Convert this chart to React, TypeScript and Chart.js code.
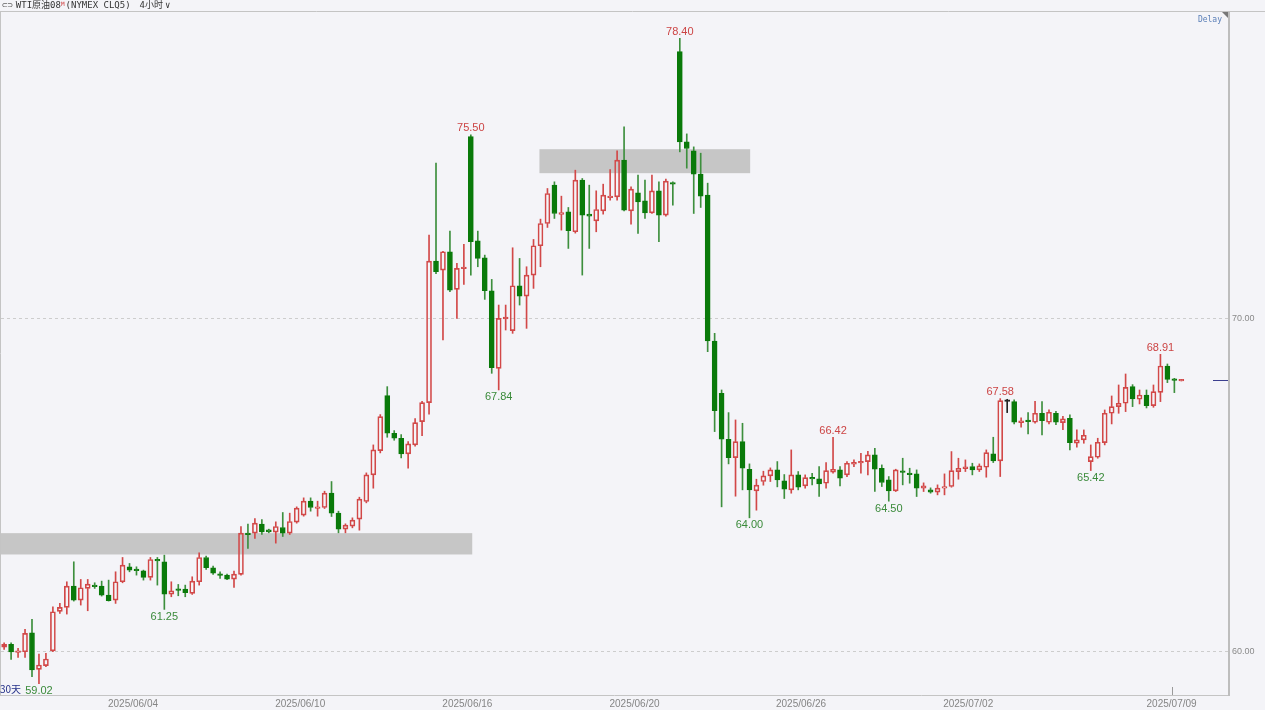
import React, { useEffect, useRef } from 'react';
import { Chart, registerables } from 'chart.js';

Chart.register(...registerables);

// ---- OHLC data (4-hour candles, WTI crude CLQ5) ----
const openP = [
  60.12, 60.20, 59.96, 59.98, 60.55, 59.45, 59.56, 60.01, 61.19, 61.31,
  61.95, 61.53, 61.88, 61.98, 61.95, 61.68, 61.53, 62.08, 62.53, 62.46,
  62.41, 62.21, 62.75, 62.68, 61.71, 61.86, 61.86, 61.73, 62.08, 62.81,
  62.50, 62.31, 62.28, 62.16, 62.30, 63.54, 63.54, 63.81, 63.64, 63.57,
  63.71, 63.54, 63.87, 64.08, 64.50, 64.29, 64.31, 64.74, 64.14, 63.66,
  63.75, 63.96, 64.49, 65.29, 66.02, 67.67, 66.54, 66.39, 65.92, 66.19,
  66.89, 67.46, 71.71, 71.44, 71.99, 70.86, 71.49, 75.45, 72.32, 71.81,
  70.82, 68.49, 69.98, 69.62, 70.97, 70.66, 71.29, 72.17, 72.84, 73.99,
  73.11, 73.19, 72.59, 74.14, 73.12, 72.92, 73.22, 73.62, 73.64, 74.74,
  73.22, 73.76, 73.52, 73.16, 73.82, 73.09, 74.07, 78.00, 75.29, 75.02,
  74.32, 73.69, 69.31, 67.74, 66.36, 65.81, 66.29, 65.46, 64.81, 65.09,
  65.26, 65.44, 65.11, 64.84, 65.29, 64.96, 65.21, 65.17, 65.04, 65.37,
  65.44, 65.29, 65.62, 65.66, 65.69, 65.89, 65.49, 65.14, 64.81, 65.41,
  65.34, 65.32, 64.89, 64.84, 64.77, 64.89, 64.94, 65.39, 65.49, 65.54,
  65.44, 65.52, 65.92, 65.71, 67.52, 67.49, 66.87, 66.92, 66.87, 67.14,
  66.87, 67.14, 66.86, 66.99, 66.24, 66.34, 65.69, 65.82, 66.26, 67.14,
  67.34, 67.44, 67.94, 67.56, 67.69, 67.37, 67.77, 68.56, 68.17, 68.12,
];
const highP = [
  60.25, 60.25, 60.08, 60.65, 60.95, 59.91, 59.93, 61.33, 61.43, 62.08,
  62.68, 62.15, 62.15, 62.05, 62.10, 62.13, 62.38, 62.81, 62.63, 62.53,
  62.43, 62.81, 62.81, 62.88, 62.08, 62.00, 61.98, 62.23, 62.95, 62.85,
  62.55, 62.38, 62.31, 62.40, 63.74, 63.81, 63.98, 63.95, 63.66, 63.88,
  64.16, 64.14, 64.33, 64.60, 64.60, 64.50, 64.80, 65.09, 64.20, 63.82,
  64.00, 64.62, 65.35, 66.19, 67.10, 67.94, 66.62, 66.50, 66.29, 66.98,
  67.50, 72.49, 74.65, 72.00, 72.61, 71.64, 72.21, 75.50, 72.61, 71.89,
  71.16, 70.39, 70.39, 72.11, 71.79, 71.54, 72.36, 72.97, 73.89, 74.09,
  73.66, 73.32, 74.44, 74.19, 73.99, 73.82, 74.02, 74.46, 75.02, 75.74,
  73.94, 74.29, 74.14, 74.29, 74.09, 74.17, 74.09, 78.40, 75.53, 75.14,
  74.95, 74.05, 69.54, 67.84, 67.16, 66.94, 66.84, 65.62, 65.16, 65.40,
  65.50, 65.69, 65.30, 66.04, 65.39, 65.29, 65.34, 65.54, 65.66, 66.42,
  65.54, 65.69, 65.74, 65.94, 66.00, 66.09, 65.59, 65.24, 65.46, 65.79,
  65.49, 65.44, 65.05, 64.90, 64.99, 65.32, 65.99, 65.79, 65.74, 65.64,
  65.62, 66.04, 66.42, 67.58, 67.56, 67.54, 67.00, 67.16, 67.50, 67.49,
  67.24, 67.20, 67.05, 67.09, 66.64, 66.64, 66.19, 66.39, 67.24, 67.66,
  67.99, 68.32, 68.00, 67.84, 67.84, 67.99, 68.91, 68.62, 68.19, 68.16,
];
const lowP = [
  60.05, 59.75, 59.81, 59.81, 59.23, 59.02, 59.53, 59.98, 61.13, 61.11,
  61.50, 61.38, 61.21, 61.88, 61.65, 61.50, 61.43, 62.05, 62.38, 62.28,
  62.13, 62.13, 61.98, 61.25, 61.63, 61.66, 61.63, 61.70, 61.98, 62.45,
  62.30, 62.18, 62.14, 61.91, 62.28, 63.08, 63.38, 63.50, 63.55, 63.24,
  63.44, 63.50, 63.84, 64.05, 64.20, 64.05, 64.28, 64.04, 63.55, 63.55,
  63.70, 63.63, 64.45, 64.89, 65.95, 66.42, 66.33, 65.80, 65.49, 66.15,
  66.47, 67.11, 71.33, 69.34, 70.79, 69.99, 71.01, 71.29, 71.54, 70.56,
  68.34, 67.84, 69.64, 69.54, 70.39, 69.69, 70.89, 71.54, 72.72, 72.99,
  72.64, 72.09, 72.55, 71.29, 72.09, 72.59, 73.12, 73.54, 73.54, 73.22,
  72.82, 72.54, 72.99, 73.14, 72.29, 73.06, 73.39, 74.99, 74.50, 73.14,
  73.32, 68.99, 66.59, 64.33, 65.62, 64.65, 64.84, 64.00, 64.23, 64.98,
  65.09, 64.93, 64.58, 64.74, 64.84, 64.89, 64.99, 64.64, 64.89, 65.34,
  64.96, 65.24, 65.54, 65.34, 65.29, 64.79, 64.94, 64.50, 64.79, 64.99,
  65.04, 64.64, 64.79, 64.74, 64.69, 64.69, 64.92, 65.16, 65.39, 65.29,
  65.39, 65.22, 65.66, 65.24, 67.16, 66.82, 66.72, 66.52, 66.84, 66.49,
  66.82, 66.80, 66.65, 66.04, 66.12, 66.24, 65.42, 65.79, 66.19, 66.82,
  67.14, 67.19, 67.34, 67.42, 67.30, 67.32, 67.49, 68.06, 67.76, 68.11,
];
const closeP = [
  60.20, 59.97, 60.01, 60.53, 59.43, 59.58, 59.76, 61.18, 61.31, 61.95,
  61.53, 61.90, 62.01, 61.93, 61.68, 61.51, 62.08, 62.58, 62.43, 62.41,
  62.21, 62.75, 62.71, 61.71, 61.81, 61.83, 61.75, 62.10, 62.81, 62.50,
  62.34, 62.28, 62.16, 62.31, 63.54, 63.50, 63.84, 63.58, 63.58, 63.74,
  63.54, 63.89, 64.29, 64.50, 64.31, 64.32, 64.74, 64.14, 63.66, 63.78,
  63.93, 64.56, 65.29, 66.04, 67.04, 66.54, 66.39, 65.92, 66.22, 66.86,
  67.46, 71.71, 71.39, 71.99, 70.84, 71.49, 71.52, 72.29, 71.79, 70.82,
  68.51, 69.99, 70.02, 70.97, 70.66, 71.29, 72.17, 72.84, 73.74, 73.14,
  73.17, 72.62, 74.14, 73.09, 73.06, 73.26, 73.69, 73.66, 74.74, 73.24,
  73.87, 73.49, 73.16, 73.82, 73.09, 74.11, 74.02, 75.29, 75.09, 74.32,
  73.66, 69.31, 67.22, 66.36, 65.81, 66.29, 65.49, 64.84, 64.98, 65.26,
  65.44, 65.14, 64.86, 65.29, 64.92, 65.21, 65.17, 65.02, 65.42, 65.46,
  65.19, 65.64, 65.66, 65.69, 65.89, 65.46, 65.06, 64.81, 65.44, 65.37,
  65.30, 64.89, 64.96, 64.77, 64.89, 64.94, 65.42, 65.49, 65.52, 65.44,
  65.56, 65.96, 65.71, 67.52, 67.52, 66.87, 66.90, 66.90, 67.14, 66.92,
  67.17, 66.87, 66.97, 66.26, 66.34, 66.48, 65.84, 66.27, 67.14, 67.34,
  67.44, 67.92, 67.57, 67.69, 67.37, 67.79, 68.56, 68.16, 68.13, 68.15,
];

// ---- axis ticks ----
const dateTickPos = [18.5, 42.5, 66.5, 90.5, 114.4, 138.4, 167.6];
const dateTickLabels = ['2025/06/04', '2025/06/10', '2025/06/16', '2025/06/20', '2025/06/26', '2025/07/02', '2025/07/09'];
const priceTicks = [60, 70];

// ---- high / low marks ----
const markIdx = [5, 23, 67, 71, 97, 107, 119, 127, 143, 156, 166];
const markVal = [59.02, 61.25, 75.5, 67.84, 78.4, 64.0, 66.42, 64.5, 67.58, 65.42, 68.91];
const markIsHigh = [false, false, true, false, true, false, true, false, true, false, true];

// ---- gray zones ----
const zoneStart = [-0.6, 76.85];
const zoneEnd = [67.2, 107.1];
const zoneLow = [62.9, 74.35];
const zoneHigh = [63.54, 75.07];

const UP = '#d24848';
const DOWN = '#0a7a0a';
const DOWN_WICK = '#3d8f3d';
const DOJI = '#222222';
const BG = '#f4f4f8';

export default function App() {
  const ref = useRef<HTMLCanvasElement>(null);

  useEffect(() => {
    if (!ref.current) return;
    const kind = openP.map((o, i) => (closeP[i] > o ? 'up' : closeP[i] < o ? 'down' : 'doji'));
    const bodies = openP.map((o, i) => {
      let a = Math.min(o, closeP[i]);
      let b = Math.max(o, closeP[i]);
      if (b - a < 0.05) {
        const m = (a + b) / 2;
        a = m - 0.025;
        b = m + 0.025;
      }
      return { x: i, y: [a, b] };
    });
    const upperW = openP.map((o, i) => ({ x: i, y: [Math.max(o, closeP[i]), highP[i]] }));
    const lowerW = openP.map((o, i) => ({ x: i, y: [lowP[i], Math.min(o, closeP[i])] }));
    const bodyBorder = kind.map((k) => (k === 'up' ? UP : k === 'down' ? DOWN : DOJI));
    const bodyFill = kind.map((k) => (k === 'down' ? DOWN : k === 'doji' ? DOJI : 'rgba(0,0,0,0)'));
    const wickColor = kind.map((k) => (k === 'up' ? UP : k === 'down' ? DOWN_WICK : DOJI));

    const overlay = {
      id: 'overlay',
      beforeDatasetsDraw(chart: any) {
        const { ctx, chartArea: a, scales } = chart;
        const x = scales.x, y = scales.y;
        ctx.save();
        ctx.beginPath();
        ctx.rect(a.left, a.top, a.right - a.left, a.bottom - a.top);
        ctx.clip();
        ctx.fillStyle = '#c6c6c6';
        zoneStart.forEach((s, k) => {
          const x0 = x.getPixelForValue(s);
          const x1 = x.getPixelForValue(zoneEnd[k]);
          const y0 = y.getPixelForValue(zoneHigh[k]);
          const y1 = y.getPixelForValue(zoneLow[k]);
          ctx.fillRect(x0, y0, x1 - x0, y1 - y0);
        });
        ctx.restore();
      },
      afterDraw(chart: any) {
        const { ctx, chartArea: a, scales } = chart;
        const x = scales.x, y = scales.y;
        ctx.save();
        // frame
        ctx.strokeStyle = '#c4c4c4';
        ctx.lineWidth = 1;
        ctx.beginPath();
        ctx.moveTo(0, a.top - 0.5);
        ctx.lineTo(1265, a.top - 0.5);
        ctx.moveTo(0.5, a.top);
        ctx.lineTo(0.5, a.bottom);
        ctx.moveTo(0, a.bottom + 0.5);
        ctx.lineTo(a.right + 1, a.bottom + 0.5);
        ctx.stroke();
        ctx.strokeStyle = '#bdbdbd';
        ctx.lineWidth = 2;
        ctx.beginPath();
        ctx.moveTo(a.right + 1, a.top);
        ctx.lineTo(a.right + 1, a.bottom + 1);
        ctx.stroke();
        // small tick mark at the last date label
        ctx.strokeStyle = '#9a9a9a';
        ctx.lineWidth = 1;
        const tx = Math.round(x.getPixelForValue(dateTickPos[dateTickPos.length - 1])) + 0.5;
        ctx.beginPath();
        ctx.moveTo(tx, a.bottom - 8);
        ctx.lineTo(tx, a.bottom);
        ctx.stroke();
        // corner triangle
        ctx.fillStyle = '#777';
        ctx.beginPath();
        ctx.moveTo(a.right - 6, a.top);
        ctx.lineTo(a.right, a.top);
        ctx.lineTo(a.right, a.top + 6);
        ctx.closePath();
        ctx.fill();
        // high/low labels
        ctx.font = '11px "Liberation Sans", Arial, sans-serif';
        ctx.textAlign = 'center';
        markIdx.forEach((mi, k) => {
          const px = x.getPixelForValue(mi);
          const py = y.getPixelForValue(markVal[k]);
          if (markIsHigh[k]) {
            ctx.fillStyle = '#cc4444';
            ctx.textBaseline = 'bottom';
            ctx.fillText(markVal[k].toFixed(2), px, py - 1);
          } else {
            ctx.fillStyle = '#3a8a3a';
            ctx.textBaseline = 'top';
            ctx.fillText(markVal[k].toFixed(2), px, py + 2);
          }
        });
        // last price marker
        const lastY = Math.round(y.getPixelForValue(closeP[closeP.length - 1])) + 0.5;
        ctx.strokeStyle = '#3b3f8f';
        ctx.lineWidth = 1;
        ctx.beginPath();
        ctx.moveTo(a.right - 15, lastY);
        ctx.lineTo(a.right, lastY);
        ctx.stroke();
        // Delay
        ctx.font = '8px "DejaVu Sans Mono", monospace';
        ctx.fillStyle = '#5a7fb8';
        ctx.textAlign = 'right';
        ctx.textBaseline = 'middle';
        ctx.fillText('Delay', a.right - 6, a.top + 8);
        // 30天
        ctx.font = '10px "Noto Sans CJK SC", sans-serif';
        ctx.fillStyle = '#26328a';
        ctx.textAlign = 'left';
        ctx.fillText('30天', 0, a.bottom - 6);
        ctx.restore();
      },
    };

    const chart = new Chart(ref.current, {
      type: 'bar',
      data: {
        datasets: [
          {
            data: bodies as any,
            backgroundColor: bodyFill,
            borderColor: bodyBorder,
            borderWidth: 1,
            borderSkipped: false,
            barThickness: 5,
            grouped: false,
          } as any,
          {
            data: upperW as any,
            backgroundColor: wickColor,
            borderWidth: 0,
            barThickness: 1,
            grouped: false,
          } as any,
          {
            data: lowerW as any,
            backgroundColor: wickColor,
            borderWidth: 0,
            barThickness: 1,
            grouped: false,
          } as any,
        ],
      },
      options: {
        responsive: false,
        animation: false,
        events: [],
        devicePixelRatio: 1,
        layout: { padding: { top: 12, left: 1, right: 0, bottom: 0 } },
        plugins: { legend: { display: false }, tooltip: { enabled: false } },
        scales: {
          x: {
            type: 'linear',
            min: -0.45,
            max: 175.7,
            offset: false,
            grid: { display: false, drawTicks: false },
            border: { display: false },
            afterBuildTicks: (s: any) => {
              s.ticks = dateTickPos.map((v) => ({ value: v }));
            },
            afterFit: (s: any) => {
              s.height = 15;
            },
            ticks: {
              autoSkip: false,
              maxRotation: 0,
              padding: 3,
              color: '#858585',
              font: { size: 10, family: '"Liberation Sans", Arial, sans-serif' },
              callback: (_v: any, i: number) => dateTickLabels[i] ?? '',
            },
          },
          y: {
            position: 'right',
            min: 58.68,
            max: 79.19,
            afterBuildTicks: (s: any) => {
              s.ticks = priceTicks.map((v) => ({ value: v }));
            },
            afterFit: (s: any) => {
              s.width = 37;
            },
            grid: { color: '#cdcdcd', lineWidth: 1, drawTicks: false },
            border: { display: false, dash: [3, 3] },
            ticks: {
              padding: 4,
              color: '#8a8a8a',
              font: { size: 9, family: '"Liberation Sans", Arial, sans-serif' },
              callback: (v: any) => Number(v).toFixed(2),
            },
          },
        },
      } as any,
      plugins: [overlay],
    });
    return () => chart.destroy();
  }, []);

  return (
    <div
      style={{
        position: 'fixed',
        left: 0,
        top: 0,
        width: 1265,
        height: 710,
        background: BG,
        overflow: 'hidden',
      }}
    >
      <canvas ref={ref} width={1265} height={710} style={{ display: 'block', width: 1265, height: 710 }} />
      <div
        style={{
          position: 'absolute',
          left: 2,
          top: 0,
          height: 11,
          lineHeight: '11px',
          fontSize: 9,
          fontFamily: '"DejaVu Sans Mono", "Noto Sans CJK SC", monospace',
          color: '#333',
          whiteSpace: 'nowrap',
        }}
      >
        <span style={{ color: '#666', marginRight: 3 }}>⊂⊃</span>
        <span>WTI原油08</span>
        <sup style={{ color: '#d04040', fontSize: 6, verticalAlign: 'top', lineHeight: '8px' }}>M</sup>
        <span style={{ marginLeft: 1 }}>(NYMEX CLQ5)</span>
        <span style={{ marginLeft: 9 }}>4小时</span>
        <span style={{ marginLeft: 2 }}>∨</span>
      </div>
    </div>
  );
}
